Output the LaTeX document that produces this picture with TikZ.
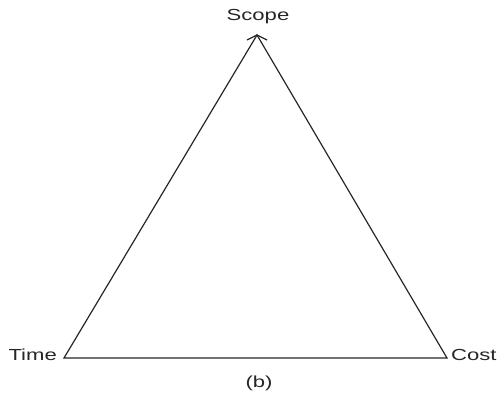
\documentclass[tikz,border=0pt]{standalone}
\usepackage{fontspec}
\setmainfont{Liberation Sans}
\usetikzlibrary{calc}
\newcommand{\wide}[1]{\scalebox{1.38}[1]{#1}}
\begin{document}
\begin{tikzpicture}[x=1pt,y=1pt,
  lbl/.style={inner sep=0pt,font=\fontsize{16}{18}\selectfont,text=black!85},
  edge/.style={line width=1.2pt,draw=black!85,line join=miter}]
\useasboundingbox (0,0) rectangle (497,398);
\coordinate (A) at (257,363);
\coordinate (L) at (64,40);
\coordinate (R) at (447,40);
\node[lbl,anchor=base] (scope) at (258,377) {\wide{Scope}};
\node[lbl,anchor=base east] (time) at (57,37.5) {\wide{Time}};
\node[lbl,anchor=base west] (cost) at (451,37.5) {\wide{Cost}};
\node[lbl,anchor=base] (cap) at (259,10) {\wide{(b)}};
\draw[edge] (L) -- (A) -- (R) -- cycle;
\draw[edge] ($(A)+(-10,-5)$) -- (A) -- ($(A)+(10,-5)$);
\end{tikzpicture}
\end{document}
